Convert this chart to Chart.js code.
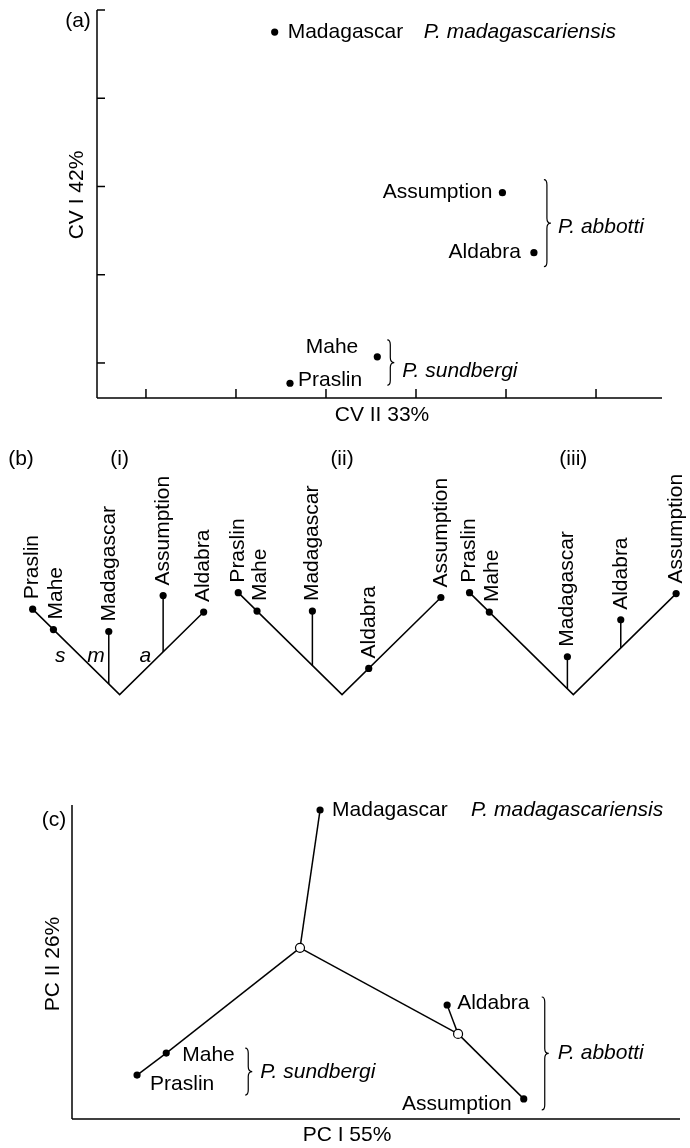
<!DOCTYPE html>
<html><head><meta charset="utf-8">
<script src="https://cdn.jsdelivr.net/npm/chart.js@4.4.1/dist/chart.umd.min.js"></script>
<style>
html,body{margin:0;padding:0;background:#fff;}
#wrap{position:relative;width:690px;height:1148px;overflow:hidden;}
canvas{position:absolute;left:0;}
</style></head><body>
<div id="wrap">
<canvas id="ca" width="690" height="440" style="top:0px"></canvas>
<canvas id="cb" width="690" height="280" style="top:440px"></canvas>
<canvas id="cc" width="690" height="428" style="top:720px"></canvas>
</div>
<script>
// ---------- (a) canonical variates ----------
const cvSites = ['Madagascar', 'Assumption', 'Aldabra', 'Mahe', 'Praslin'];
const cvII = [2.43, 4.96, 5.31, 3.57, 2.60];   // x: CV II
const cvI  = [4.75, 2.93, 2.25, 1.07, 0.77];   // y: CV I
const cvXTicks = [1, 2, 3, 4, 5, 6];
const cvYTicks = [1, 2, 3, 4, 5];
const cvXTitle = 'CV II 33%';
const cvYTitle = 'CV I 42%';

// ---------- (b) trees ----------
const treeTitles = ['(i)', '(ii)', '(iii)'];
const treeTaxa = ['Praslin', 'Mahe', 'Madagascar', 'Assumption', 'Aldabra'];
// position of each taxon's attachment along the baseline (negative = left arm) and its stem length
const treeIPos   = [-88, -67, -11, 44, 85];   const treeIStem   = [0, 0, 54, 58, 0];
const treeIIPos  = [-105, -86, -30, 100, 27]; const treeIIStem  = [0, 0, 56, 0, 0];
const treeIIIPos = [-105, -85, -6, 104, 48];  const treeIIIStem = [0, 0, 33, 0, 29];
const treeRootX = [117, 342, 576];
const branchLabels = ['s', 'm', 'a'];
const branchLabelPos = [-60, -24, 26];
const branchLabelH = [40, 40, 40];

// ---------- (c) principal components ----------
const pcNodes = ['Madagascar', 'J1', 'Mahe', 'Praslin', 'J2', 'Aldabra', 'Assumption'];
const pcI  = [40.8, 37.5, 15.5, 10.7, 63.5, 61.7, 74.3];
const pcII = [98.4, 54.5, 21.0, 14.0, 27.1, 36.3, 6.4];
const pcObserved = ['Madagascar', 'Mahe', 'Praslin', 'Aldabra', 'Assumption'];
const pcInferred = ['J1', 'J2'];
const pcEdges = [['Madagascar','J1'], ['J1','Mahe'], ['Mahe','Praslin'], ['J1','J2'], ['J2','Aldabra'], ['J2','Assumption']];
const pcXTitle = 'PC I 55%';
const pcYTitle = 'PC II 26%';

const spMad = 'P. madagascariensis', spAbb = 'P. abbotti', spSun = 'P. sundbergi';

// ---------- helpers ----------
const FAM = '"Liberation Sans", Arial, Helvetica, sans-serif';
const FS = 21;
const LW = 1.5;
function text(ctx, s, x, y, align, italic, rot) {
  ctx.save();
  ctx.font = (italic ? 'italic ' : '') + FS + 'px ' + FAM;
  ctx.fillStyle = '#000';
  ctx.textAlign = align || 'left';
  ctx.textBaseline = 'middle';
  ctx.translate(x, y);
  if (rot) ctx.rotate(rot);
  ctx.fillText(s, 0, 0);
  ctx.restore();
}
function line(ctx, x1, y1, x2, y2) {
  ctx.save(); ctx.strokeStyle = '#000'; ctx.lineWidth = LW;
  ctx.beginPath(); ctx.moveTo(x1, y1); ctx.lineTo(x2, y2); ctx.stroke(); ctx.restore();
}
function brace(ctx, x, y1, y2) {
  const ym = (y1 + y2) / 2, r = 5;
  ctx.save(); ctx.strokeStyle = '#000'; ctx.lineWidth = 1.2;
  ctx.beginPath();
  ctx.moveTo(x - 3, y1);
  ctx.quadraticCurveTo(x, y1, x, y1 + r);
  ctx.lineTo(x, ym - r);
  ctx.quadraticCurveTo(x, ym, x + 4, ym);
  ctx.quadraticCurveTo(x, ym, x, ym + r);
  ctx.lineTo(x, y2 - r);
  ctx.quadraticCurveTo(x, y2, x - 3, y2);
  ctx.stroke(); ctx.restore();
}
const common = {
  responsive: false, animation: false, devicePixelRatio: 1, events: [],
  plugins: { legend: { display: false }, tooltip: { enabled: false } }
};

// ---------- chart (a) ----------
const lblA = { Madagascar: [13, 0, 'left'], Assumption: [-10, 0, 'right'], Aldabra: [-13, 0, 'right'], Mahe: [-19, -10, 'right'], Praslin: [8, -3, 'left'] };
new Chart(document.getElementById('ca'), {
  type: 'scatter',
  data: { datasets: [{
    data: cvSites.map((s, i) => ({ x: cvII[i], y: cvI[i] })),
    pointRadius: 3.6, pointBackgroundColor: '#000', pointBorderWidth: 0, clip: false
  }]},
  options: Object.assign({}, common, {
    layout: { padding: { left: 97, right: 28, top: 10, bottom: 42 } },
    scales: {
      x: { type: 'linear', display: false, min: 0.456, max: 6.733 },
      y: { type: 'linear', display: false, min: 0.603, max: 5 }
    }
  }),
  plugins: [{ id: 'decorA', afterDraw(chart) {
    const ctx = chart.ctx, a = chart.chartArea, xs = chart.scales.x, ys = chart.scales.y;
    line(ctx, a.left, a.top, a.left, a.bottom);
    line(ctx, a.left, a.bottom, a.right, a.bottom);
    cvYTicks.forEach(v => { const p = ys.getPixelForValue(v); line(ctx, a.left, p, a.left + 8, p); });
    cvXTicks.forEach(v => { const p = xs.getPixelForValue(v); line(ctx, p, a.bottom, p, a.bottom - 9); });
    text(ctx, '(a)', a.left - 19, a.top + 11, 'center');
    text(ctx, cvYTitle, a.left - 20, a.top + 185, 'center', false, -Math.PI / 2);
    text(ctx, cvXTitle, 382, a.bottom + 17, 'center');
    const pts = chart.getDatasetMeta(0).data;
    const P = {}; cvSites.forEach((s, i) => P[s] = pts[i]);
    cvSites.forEach(s => { const o = lblA[s]; text(ctx, s, P[s].x + o[0], P[s].y + o[1], o[2]); });
    text(ctx, spMad, P.Madagascar.x + 149, P.Madagascar.y, 'left', true);
    const bx1 = P.Aldabra.x + 13;
    brace(ctx, bx1, P.Assumption.y - 13, P.Aldabra.y + 14);
    text(ctx, spAbb, bx1 + 11, (P.Assumption.y + P.Aldabra.y) / 2 + 4, 'left', true);
    const bx2 = P.Mahe.x + 13;
    brace(ctx, bx2, P.Mahe.y - 17, P.Praslin.y + 2);
    text(ctx, spSun, bx2 + 12, (P.Mahe.y + P.Praslin.y) / 2 + 1, 'left', true);
  }}]
});

// ---------- chart (b) ----------
const trees = [[treeIPos, treeIStem], [treeIIPos, treeIIStem], [treeIIIPos, treeIIIStem]];
const dsB = [];
trees.forEach(([pos, stem], t) => {
  const rx = treeRootX[t];
  const tips = treeTaxa.map((_, i) => ({ x: rx + pos[i], y: Math.abs(pos[i]) + stem[i] }));
  dsB.push({ data: tips, pointRadius: 3.6, pointBackgroundColor: '#000', pointBorderWidth: 0, showLine: false, clip: false });
});
trees.forEach(([pos, stem], t) => {
  const rx = treeRootX[t];
  const left = Math.min(...pos), right = Math.max(...pos);
  dsB.push({ data: [{ x: rx + left, y: -left }, { x: rx, y: 0 }, { x: rx + right, y: right }],
    showLine: true, pointRadius: 0, borderColor: '#000', borderWidth: LW, clip: false });
  pos.forEach((p, i) => { if (stem[i] > 0) dsB.push({ data: [{ x: rx + p, y: Math.abs(p) }, { x: rx + p, y: Math.abs(p) + stem[i] }],
    showLine: true, pointRadius: 0, borderColor: '#000', borderWidth: LW, clip: false }); });
});
new Chart(document.getElementById('cb'), {
  type: 'scatter',
  data: { datasets: dsB },
  options: Object.assign({}, common, {
    layout: { padding: 0 },
    scales: {
      x: { type: 'linear', display: false, min: 0, max: 690 },
      y: { type: 'linear', display: false, min: -22, max: 258 }
    }
  }),
  plugins: [{ id: 'decorB', afterDraw(chart) {
    const ctx = chart.ctx, a = chart.chartArea, xs = chart.scales.x, ys = chart.scales.y;
    text(ctx, '(b)', 21, a.top + 15, 'center');
    treeTitles.forEach((s, t) => text(ctx, s, xs.getPixelForValue(treeRootX[t]), a.top + 15, 'center'));
    trees.forEach((tr, t) => {
      const pts = chart.getDatasetMeta(t).data;
      treeTaxa.forEach((s, i) => {
        const dx = s === 'Mahe' ? 3 : 0;
        text(ctx, s, pts[i].x + dx, pts[i].y - 10, 'left', false, -Math.PI / 2);
      });
    });
    branchLabels.forEach((s, i) => text(ctx, s, xs.getPixelForValue(treeRootX[0] + branchLabelPos[i]), ys.getPixelForValue(branchLabelH[i]), 'center', true));
  }}]
});

// ---------- chart (c) ----------
const idx = n => pcNodes.indexOf(n);
const pt = n => ({ x: pcI[idx(n)], y: pcII[idx(n)] });
const dsC = [
  { data: pcInferred.map(pt), pointRadius: 4.5, pointBackgroundColor: '#fff', pointBorderColor: '#000', pointBorderWidth: 1.2, showLine: false, clip: false },
  { data: pcObserved.map(pt), pointRadius: 3.6, pointBackgroundColor: '#000', pointBorderWidth: 0, showLine: false, clip: false }
];
pcEdges.forEach(([p, q]) => dsC.push({ data: [pt(p), pt(q)], showLine: true, pointRadius: 0, borderColor: '#000', borderWidth: LW, clip: false }));
const lblC = { Madagascar: [12, 0, 'left'], Mahe: [16, 2, 'left'], Praslin: [13, 9, 'left'], Aldabra: [10, -2, 'left'], Assumption: [-12, 5, 'right'] };
new Chart(document.getElementById('cc'), {
  type: 'scatter',
  data: { datasets: dsC },
  options: Object.assign({}, common, {
    layout: { padding: { left: 72, right: 10, top: 85, bottom: 29 } },
    scales: {
      x: { type: 'linear', display: false, min: 0, max: 100 },
      y: { type: 'linear', display: false, min: 0, max: 100 }
    }
  }),
  plugins: [{ id: 'decorC', afterDraw(chart) {
    const ctx = chart.ctx, a = chart.chartArea;
    line(ctx, a.left, a.top, a.left, a.bottom);
    line(ctx, a.left, a.bottom, a.right, a.bottom);
    text(ctx, '(c)', a.left - 18, a.top + 15, 'center');
    text(ctx, pcYTitle, a.left - 19, a.top + 159, 'center', false, -Math.PI / 2);
    text(ctx, pcXTitle, 347, a.bottom + 16, 'center');
    const obs = chart.getDatasetMeta(1).data;
    const P = {}; pcObserved.forEach((s, i) => P[s] = obs[i]);
    pcObserved.forEach(s => { const o = lblC[s]; text(ctx, s, P[s].x + o[0], P[s].y + o[1], o[2]); });
    text(ctx, spMad, P.Madagascar.x + 151, P.Madagascar.y, 'left', true);
    const bx1 = P.Mahe.x + 82;
    brace(ctx, bx1, P.Mahe.y - 5, P.Praslin.y + 20);
    text(ctx, spSun, bx1 + 12, (P.Mahe.y + P.Praslin.y + 20 - 5) / 2 + 1, 'left', true);
    const bx2 = P.Assumption.x + 21;
    brace(ctx, bx2, P.Aldabra.y - 8, P.Assumption.y + 11);
    text(ctx, spAbb, bx2 + 13, (P.Aldabra.y - 8 + P.Assumption.y + 11) / 2, 'left', true);
  }}]
});
</script>
</body></html>
